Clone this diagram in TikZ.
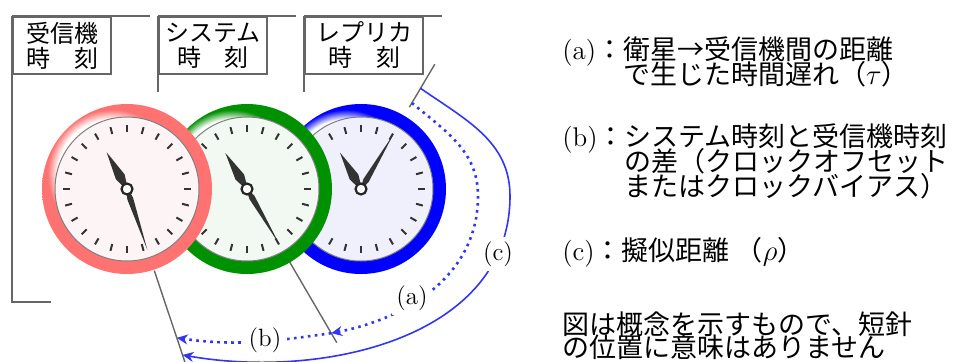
\documentclass[tikz,border=0pt]{standalone}
\usepackage{fontspec}
\newfontfamily\jpfont{Noto Sans CJK JP}
\usepackage{xcolor}
\definecolor{ringred}{HTML}{FF7272}
\definecolor{ringgreen}{HTML}{009100}
\definecolor{ringblue}{HTML}{0000FF}
\definecolor{facered}{HTML}{FDF5F5}
\definecolor{facegreen}{HTML}{F2F8F2}
\definecolor{faceblue}{HTML}{F0F0FD}
\definecolor{arcblue}{HTML}{3434F4}
\definecolor{hand}{HTML}{333333}
\definecolor{rule}{HTML}{666666}
\usepackage{tikz}
\usetikzlibrary{arrows.meta,positioning,calc}

% ring with a light rim towards the upper left
\pgfdeclareradialshading[ringcol]{ringshade}{\pgfpoint{-7.07bp}{7.07bp}}{%
  color(0bp)=(white); color(15.5bp)=(white); color(19bp)=(ringcol); color(50bp)=(ringcol)}

% lines closer than the glyph boxes allow
\newcommand{\tightlines}{\lineskiplimit=-10pt\relax}

% clock: centre, ring colour, face colour, hour angle, minute angle
\newcommand{\drawclock}[5]{%
  \colorlet{ringcol}{#2}%
  \shade[shading=ringshade] (#1) circle (85);
  \filldraw[fill=#3,draw=gray,line width=0.5pt] (#1) circle (72);
  \foreach \ang in {0,15,...,345}
    \draw[tickmark,shift={(#1)}] (\ang:57) -- (\ang:64);
  \fill[hand,shift={(#1)},rotate=#4] (-3,0) -- (14,5) -- (42,0) -- (14,-5) -- cycle;
  \fill[hand,shift={(#1)},rotate=#5] (-3,0) -- (10,3) -- (64,0) -- (10,-3) -- cycle;
  \filldraw[fill=white,draw=black!85,line width=1.1pt] (#1) circle (5.5);
}

\begin{document}
\begin{tikzpicture}[x=0.5pt,y=0.5pt,
  namebox/.style={draw=rule,line width=1pt,fill=white,inner sep=0pt,
    minimum height=28.5pt,anchor=north west,align=center,
    font=\jpfont\fontsize{12}{12.5}\selectfont},
  bracket/.style={rule,line width=1pt},
  handline/.style={rule,line width=0.7pt},
  tickmark/.style={hand,line width=1pt},
  dotarc/.style={arcblue,line width=1.3pt,dash pattern=on 1.3pt off 2.2pt,
    -{Stealth[length=5.5pt,width=5pt,inset=1.8pt]}},
  solidarc/.style={arcblue,line width=0.8pt,
    -{Stealth[length=5.5pt,width=5pt,inset=1.8pt]}},
  arclabel/.style={fill=white,inner sep=2pt,font=\fontsize{12.5}{12.5}\selectfont},
  note/.style={anchor=west,align=left,inner sep=0pt,
    font={\fontsize{13.5}{12.5}\selectfont\tightlines}}]
  \useasboundingbox (0,0) rectangle (960,361);

  % name tags with their brackets
  \node[namebox,minimum width=49pt] (rxbox) at (12,345) {受信機\\時　刻};
  \node[namebox,minimum width=54pt] (sysbox) at (158,345) {システム\\時　刻};
  \node[namebox,minimum width=59pt] (repbox) at (304,345) {レプリカ\\時　刻};
  \draw[bracket] (rxbox.north west) -- ++(138,0);
  \draw[bracket] (rxbox.north west) -- ++(0,-286) -- ++(39,0);
  \draw[bracket] (sysbox.north west) -- ++(138,0);
  \draw[bracket] (sysbox.north west) -- ++(0,-76);
  \draw[bracket] (repbox.north west) -- ++(138,0);
  \draw[bracket] (repbox.north west) -- ++(0,-76);

  % clock centres
  \coordinate (rx) at (127,172);
  \coordinate (sys) at (247,172);
  \coordinate (rep) at (361,172);

  % minute hands carried outwards
  \coordinate (rxin) at ($(rx)+(-71.5:86)$);
  \coordinate (rxout) at ($(rx)+(-71.5:186)$);
  \coordinate (sysin) at ($(sys)+(-59.7:84)$);
  \coordinate (sysout) at ($(sys)+(-59.7:178)$);
  \coordinate (repin) at ($(rep)+(59.4:95)$);
  \coordinate (repout) at ($(rep)+(59.4:145)$);
  \draw[handline] (rxin) -- (rxout);
  \draw[handline] (sysin) -- (sysout);
  \draw[handline] (repin) -- (repout);

  \drawclock{rep}{ringblue}{faceblue}{120}{59.4}
  \drawclock{sys}{ringgreen}{facegreen}{121}{-59.7}
  \drawclock{rx}{ringred}{facered}{119}{-71.5}

  % arcs between the hands
  \coordinate (repa) at ($(rep)+(59.4:100)$);
  \coordinate (repc) at ($(rep)+(59.4:117)$);
  \coordinate (sysa) at ($(sys)+(-59.7:167)$);
  \coordinate (rxb) at ($(rx)+(-71.5:157)$);
  \coordinate (rxc) at ($(rx)+(-71.5:175)$);
  \coordinate (aturn) at (478,165);
  \coordinate (cturn) at (510,165);
  \draw[dotarc] (repa) to[out=-40,in=90] (aturn) to[out=-90,in=11] (sysa);
  \draw[dotarc] (sysa) to[out=188,in=-8] (rxb);
  \draw[solidarc] (repc) to[out=-35,in=90] (cturn) to[out=-90,in=-10] (rxc);
  \node[arclabel] (la) at (412,63) {(a)};
  \node[arclabel] (lb) at (265,21) {(b)};
  \node[arclabel] (lc) at (498,107) {(c)};

  % legend
  \node[note] (notea) at (562,299)
    {(a){\jpfont ：衛星→受信機間の距離}\\
     \hphantom{(a){\jpfont ：}}{\jpfont で生じた時間遅れ（$\tau$）}};
  \node[note] (noteb) at (562,200)
    {(b){\jpfont ：システム時刻と受信機時刻}\\
     \hphantom{(b){\jpfont ：}}{\jpfont の差（クロックオフセット}\\
     \hphantom{(b){\jpfont ：}}{\jpfont またはクロックバイアス）}};
  \node[note] (notec) at (562,109)
    {(c){\jpfont ：擬似距離 （$\rho$）}};
  \node[note,font={\fontsize{13.5}{11.5}\selectfont\tightlines}] (notes) at (562,25)
    {\jpfont 図は概念を示すもので、短針\\
     \jpfont の位置に意味はありません};
\end{tikzpicture}
\end{document}
